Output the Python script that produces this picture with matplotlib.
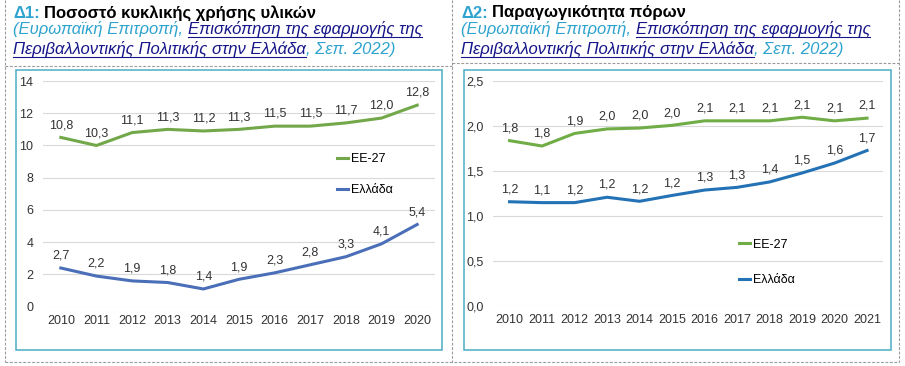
import matplotlib
matplotlib.use("Agg")
import matplotlib.pyplot as plt
from matplotlib.patches import Rectangle
from matplotlib.lines import Line2D

plt.rcParams['font.family'] = ['Liberation Sans', 'DejaVu Sans']

# ---- data ----
years_circ = [2010, 2011, 2012, 2013, 2014, 2015, 2016, 2017, 2018, 2019, 2020]
eu_circ = [10.5, 10.0, 10.8, 11.0, 10.9, 11.0, 11.2, 11.2, 11.4, 11.7, 12.5]
gr_circ = [2.4, 1.9, 1.6, 1.5, 1.1, 1.7, 2.1, 2.6, 3.1, 3.9, 5.1]
eu_circ_lbl = [10.8, 10.3, 11.1, 11.3, 11.2, 11.3, 11.5, 11.5, 11.7, 12.0, 12.8]
gr_circ_lbl = [2.7, 2.2, 1.9, 1.8, 1.4, 1.9, 2.3, 2.8, 3.3, 4.1, 5.4]

years_prod = [2010, 2011, 2012, 2013, 2014, 2015, 2016, 2017, 2018, 2019, 2020, 2021]
eu_prod = [1.84, 1.78, 1.92, 1.97, 1.98, 2.01, 2.06, 2.06, 2.06, 2.10, 2.06, 2.09]
gr_prod = [1.16, 1.15, 1.15, 1.21, 1.165, 1.23, 1.29, 1.32, 1.38, 1.48, 1.59, 1.73]
eu_prod_lbl = [1.8, 1.8, 1.9, 2.0, 2.0, 2.0, 2.1, 2.1, 2.1, 2.1, 2.1, 2.1]
gr_prod_lbl = [1.2, 1.1, 1.2, 1.2, 1.2, 1.2, 1.3, 1.3, 1.4, 1.5, 1.6, 1.7]

W, H = 905, 366
TEAL = '#4bacc6'
CYAN = '#2ea3cf'
LINK = '#16168a'
GRAY_TXT = '#333333'


def fx(px):
    return px / W


def fy(py):
    return 1 - py / H


def comma(v, nd=1):
    return f"{v:.{nd}f}".replace('.', ',')


fig = plt.figure(figsize=(W / 100, H / 100), dpi=100)
fig.patch.set_facecolor('white')
renderer = fig.canvas.get_renderer()


def hline(x0, x1, y, **kw):
    fig.add_artist(Line2D([fx(x0), fx(x1)], [fy(y), fy(y)], **kw))


def vline(x, y0, y1, **kw):
    fig.add_artist(Line2D([fx(x), fx(x)], [fy(y0), fy(y1)], **kw))


# dashed table borders
dash = dict(color='#9a9a9a', lw=0.8, linestyle=(0, (2.5, 1.5)))
vline(5, 0, 362, **dash)
vline(452, 0, 362, **dash)
vline(899, 0, 362, **dash)
hline(5, 452, 66, **dash)
hline(452, 899, 63, **dash)
hline(5, 899, 362, **dash)

# teal chart frames
for x0, x1 in [(16, 442), (464, 891)]:
    fig.add_artist(Rectangle((fx(x0), fy(350)), fx(x1) - fx(x0), fy(70) - fy(350),
                             transform=fig.transFigure, fill=False,
                             edgecolor=TEAL, lw=1.1))


def put_line(x_px, base_px, pieces, size):
    x = x_px
    sp = 0.278 * size * 100 / 72
    for txt, color, weight, style, under, gap in pieces:
        t = fig.text(fx(x), fy(base_px), txt, color=color, fontsize=size,
                     fontweight=weight, fontstyle=style, va='baseline', ha='left')
        w = t.get_window_extent(renderer).width
        if under:
            hline(x, x + w, base_px + 2.5, color=color, lw=0.8)
        x += w + (sp if gap else 0)


def header(x0, tag, title):
    put_line(x0, 17.5, [(tag, CYAN, 'bold', 'normal', False, True),
                        (title, 'black', 'bold', 'normal', False, False)], 12)
    put_line(x0, 34, [('(Ευρωπαϊκή Επιτροπή,', CYAN, 'normal', 'italic', False, True),
                      ('Επισκόπηση της εφαρμογής της', LINK, 'normal', 'italic', True, False)], 12)
    put_line(x0, 54, [('Περιβαλλοντικής Πολιτικής στην Ελλάδα', LINK, 'normal', 'italic', True, False),
                      (', Σεπ. 2022)', CYAN, 'normal', 'italic', False, False)], 12)


header(13, 'Δ1:', 'Ποσοστό κυκλικής χρήσης υλικών')
header(461, 'Δ2:', 'Παραγωγικότητα πόρων')


def draw_chart(px_left, px_right, px_top, px_bot, years, eu, gr, eu_lbl, gr_lbl,
               ylim, yticks, ynd, c_eu, c_gr, leg_xy, leg_space):
    ax = fig.add_axes([fx(px_left), fy(px_bot), fx(px_right) - fx(px_left), fy(px_top) - fy(px_bot)])
    xs = list(range(len(years)))
    ax.plot(xs, eu, color=c_eu, lw=2.2, label='EE-27', solid_joinstyle='round')
    ax.plot(xs, gr, color=c_gr, lw=2.2, label='Ελλάδα', solid_joinstyle='round')
    for vals, lbls in [(eu, eu_lbl), (gr, gr_lbl)]:
        for i, (v, l) in enumerate(zip(vals, lbls)):
            ax.annotate(comma(l), (i, v), xytext=(0, 4.5), textcoords='offset points',
                        ha='center', va='bottom', fontsize=9, color=GRAY_TXT)
    ax.set_xlim(-0.5, len(years) - 0.5)
    ax.set_ylim(ylim)
    ax.set_yticks(yticks)
    ax.set_yticklabels([comma(v, ynd) for v in yticks])
    ax.set_xticks(xs)
    ax.set_xticklabels([str(y) for y in years])
    ax.tick_params(length=0, labelsize=9, colors=GRAY_TXT)
    ax.tick_params(axis='y', pad=7)
    ax.tick_params(axis='x', pad=6)
    ax.grid(axis='y', color='#d9d9d9', lw=0.8)
    ax.set_axisbelow(True)
    for s in ax.spines.values():
        s.set_visible(False)
    ax.legend(loc='upper left', bbox_to_anchor=leg_xy, frameon=False, fontsize=9,
              handlelength=0.9, handletextpad=0.2, borderpad=0, borderaxespad=0,
              labelspacing=leg_space)
    return ax


draw_chart(43, 435, 81, 306.7, years_circ, eu_circ, gr_circ, eu_circ_lbl, gr_circ_lbl,
           (0, 14), [0, 2, 4, 6, 8, 10, 12, 14], 0, '#72a84a', '#4a6fb8',
           (0.75, 0.68), 1.5)
draw_chart(493.3, 883.3, 81.3, 306, years_prod, eu_prod, gr_prod, eu_prod_lbl, gr_prod_lbl,
           (0, 2.5), [0.0, 0.5, 1.0, 1.5, 2.0, 2.5], 1, '#70ad47', '#2372b6',
           (0.63, 0.30), 1.9)

fig.savefig('out.png', dpi=100, facecolor='white')
